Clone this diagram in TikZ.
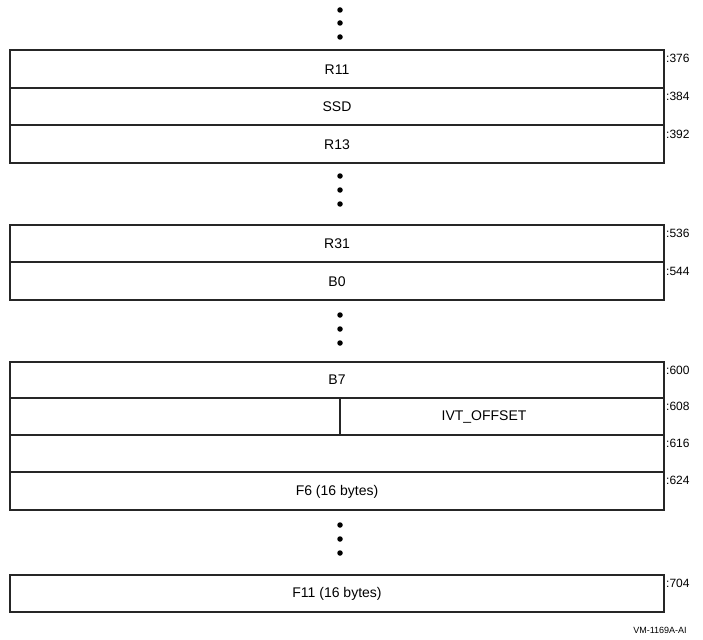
\documentclass[tikz,border=0pt]{standalone}
\usepackage{fontspec}
\setmainfont{Liberation Sans}
\begin{document}
\begin{tikzpicture}[x=1pt,y=-1pt,
  cell/.style={draw=black!85,line width=1.8pt},
  lbl/.style={font=\fontsize{14}{16}\selectfont,inner sep=0pt},
  off/.style={font=\fontsize{12}{14}\selectfont,anchor=west,inner sep=0pt},
  dot/.style={circle,fill=black,inner sep=0pt,minimum size=5.5pt}]
\useasboundingbox (0,0) rectangle (703,639);
% dots group 1
\node[dot] (d1a) at (340,10) {};
\node[dot] (d1b) at (340,23) {};
\node[dot] (d1c) at (340,37) {};
% block 1
\draw[cell] (10,50) rectangle (664,88);
\draw[cell] (10,88) rectangle (664,125);
\draw[cell] (10,125) rectangle (664,163);
\node[lbl] (r11) at (337,70) {R11};
\node[lbl] (ssd) at (337,107) {SSD};
\node[lbl] (r13) at (337,145) {R13};
\node[off] (o376) at (666,58) {:376};
\node[off] (o384) at (666,96) {:384};
\node[off] (o392) at (666,134) {:392};
% dots group 2
\node[dot] (d2a) at (340,176) {};
\node[dot] (d2b) at (340,190) {};
\node[dot] (d2c) at (340,204) {};
% block 2
\draw[cell] (10,225) rectangle (664,262);
\draw[cell] (10,262) rectangle (664,300);
\node[lbl] (r31) at (337,244) {R31};
\node[lbl] (b0) at (337,282) {B0};
\node[off] (o536) at (666,233) {:536};
\node[off] (o544) at (666,271) {:544};
% dots group 3
\node[dot] (d3a) at (340,315) {};
\node[dot] (d3b) at (340,329) {};
\node[dot] (d3c) at (340,343) {};
% block 3
\draw[cell] (10,362) rectangle (664,398);
\draw[cell] (10,398) rectangle (664,435);
\draw[cell] (340,398) -- (340,435);
\draw[cell] (10,435) rectangle (664,472);
\draw[cell] (10,472) rectangle (664,510);
\node[lbl] (b7) at (337,380) {B7};
\node[lbl] (ivt) at (484,417) {IVT\_OFFSET};
\node[lbl] (f6) at (337,492) {F6 (16 bytes)};
\node[off] (o600) at (666,370) {:600};
\node[off] (o608) at (666,406) {:608};
\node[off] (o616) at (666,443) {:616};
\node[off] (o624) at (666,480) {:624};
% dots group 4
\node[dot] (d4a) at (340,525) {};
\node[dot] (d4b) at (340,539) {};
\node[dot] (d4c) at (340,553) {};
% block 4
\draw[cell] (10,575) rectangle (664,612);
\node[lbl] (f11) at (337,594) {F11 (16 bytes)};
\node[off] (o704) at (666,583) {:704};
\node[font=\fontsize{9}{11}\selectfont,inner sep=0pt] (vm) at (660,630) {VM-1169A-AI};
\end{tikzpicture}
\end{document}
